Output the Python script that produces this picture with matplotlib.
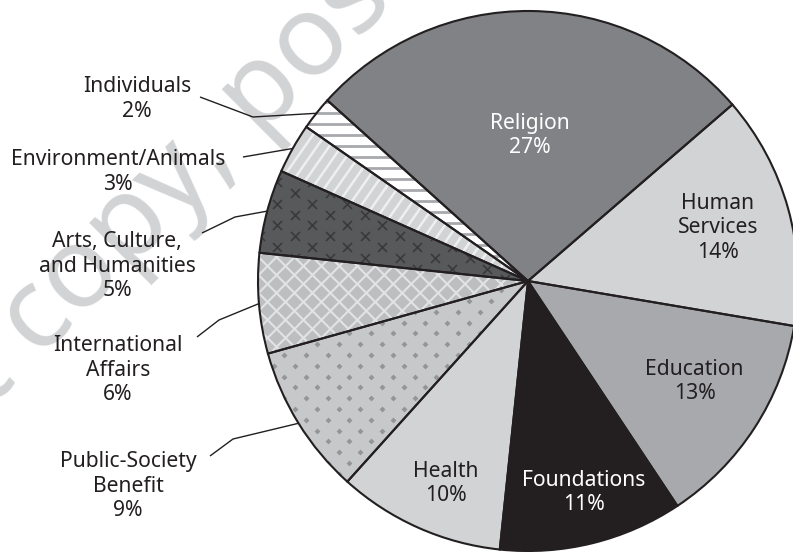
import numpy as np
import matplotlib
matplotlib.use("Agg")
import matplotlib.pyplot as plt
from matplotlib.patches import Wedge
from matplotlib.collections import LineCollection

plt.rcParams['font.family'] = ['Noto Sans', 'DejaVu Sans']

# Giving by type of recipient (percent of total)
categories = ["Religion", "Individuals", "Environment/Animals",
              "Arts, Culture,\nand Humanities", "International\nAffairs",
              "Public-Society\nBenefit", "Health", "Foundations",
              "Education", "Human\nServices"]
shares = [27, 2, 3, 5, 6, 9, 10, 11, 13, 14]

face_colors = ["#808285", "#ffffff", "#d1d3d4", "#58595b", "#bcbec0",
               "#c7c8ca", "#d1d3d4", "#231f20", "#a7a9ac", "#d1d3d4"]
text_dark = "#231f20"
edge = "#231f20"
FS = 15.2

W, H = 793, 552
CX, CY, R = 528, H - 281, 270

fig = plt.figure(figsize=(W / 100, H / 100), dpi=100)
ax = fig.add_axes([0, 0, 1, 1])

wedges, _ = ax.pie(shares, colors=face_colors, startangle=40.8,
                   counterclock=True, center=(CX, CY), radius=R,
                   wedgeprops=dict(edgecolor="none", linewidth=0))
for w in wedges:
    w.set_zorder(1)

ax.set_xlim(0, W)
ax.set_ylim(0, H)
ax.set_aspect("auto")
ax.axis("off")

# faint watermark behind the pie
wm_kw = dict(fontsize=82, fontweight="bold", color="#d1d3d4", rotation=45,
             rotation_mode="anchor", va="baseline", zorder=0, family="Noto Sans")
ax.text(238, H - 160, "Do not copy,", ha="right", **wm_kw)
ax.text(238, H - 160, " post, or distribute", ha="left", **wm_kw)

box = (CX - R - 20, CY - R - 20, CX + R + 20, CY + R + 20)


def stripes(angle, spacing):
    """Parallel line segments at `angle` degrees covering the pie box."""
    a = np.radians(angle)
    d = np.array([np.cos(a), np.sin(a)])
    n = np.array([-d[1], d[0]])
    half = 2 * R + 40
    segs = []
    for off in np.arange(-half, half, spacing):
        c = np.array([CX, CY]) + n * off
        segs.append([c - d * half, c + d * half])
    return segs


def grid(dx, dy, x0=0.0):
    """Staggered grid of points over the pie box."""
    pts = []
    for k, y in enumerate(np.arange(box[1], box[3], dy)):
        shift = x0 + (dx / 2 if k % 2 else 0)
        for x in np.arange(box[0] + shift, box[2], dx):
            pts.append((x, y))
    return np.array(pts)


def clip_lines(segs, wedge, color, lw):
    lc = LineCollection(segs, colors=color, linewidths=lw, zorder=2)
    ax.add_collection(lc)
    lc.set_clip_path(wedge)


def clip_marks(pts, wedge, marker, color, size, lw=0):
    sc = ax.scatter(pts[:, 0], pts[:, 1], marker=marker, s=size, c=color,
                    linewidths=lw, zorder=2)
    sc.set_clip_path(wedge)


# slice textures
clip_lines(stripes(0, 11), wedges[1], "#a7a9ac", 2.0)
clip_lines(stripes(55, 10), wedges[2], "#eeeff0", 1.8)
clip_marks(grid(35, 10.8, 4), wedges[3], "x", "#3a3a3c", 42, 1.2)
clip_lines(stripes(45, 12.7) + stripes(-45, 12.7), wedges[4], "#e2e3e4", 1.5)
clip_marks(grid(21.7, 10.8, 3), wedges[5], "D", "#939598", 9)

# outlines on top of the textures
for w in wedges:
    ax.add_patch(Wedge(w.center, w.r, w.theta1, w.theta2, fill=False,
                       edgecolor=edge, linewidth=1.5, zorder=3))

# labels inside the larger slices: (index, radial fraction, angle nudge, colour)
inside = [(0, 0.54, 0, "white"), (6, 0.81, 2, text_dark),
          (7, 0.81, 1, "white"), (8, 0.72, 2, text_dark),
          (9, 0.73, 0, text_dark)]
for i, frac, nudge, col in inside:
    w = wedges[i]
    mid = np.radians((w.theta1 + w.theta2) / 2 + nudge)
    x = CX + frac * R * np.cos(mid)
    y = CY + frac * R * np.sin(mid)
    ax.text(x, y, f"{categories[i]}\n{shares[i]}%", ha="center", va="center",
            fontsize=FS, color=col, linespacing=1.2, zorder=5)

# labels outside the small slices with leader lines
# (index, text centre, knee, leader end) in pixel units
outside = [(1, (137, 99), (253, 117), (200, 97)),
           (2, (118, 172), (243, 157), (243, 157)),
           (3, (117, 266), (235, 217), (202, 233)),
           (4, (118, 370), (219, 320), (197, 337)),
           (5, (128, 486), (233, 439), (210, 456))]
for i, (tx, ty), (kx, ky), (ex, ey) in outside:
    w = wedges[i]
    mid = np.radians((w.theta1 + w.theta2) / 2)
    px = CX + R * np.cos(mid)
    py = CY + R * np.sin(mid)
    ax.plot([px, kx, ex], [py, H - ky, H - ey], color=text_dark, lw=1.0,
            zorder=4, solid_capstyle="butt")
    ax.text(tx, H - ty, f"{categories[i]}\n{shares[i]}%", ha="center",
            va="center", fontsize=FS, color=text_dark, linespacing=1.2,
            zorder=5)

fig.savefig("out.png", dpi=100, facecolor="white")
